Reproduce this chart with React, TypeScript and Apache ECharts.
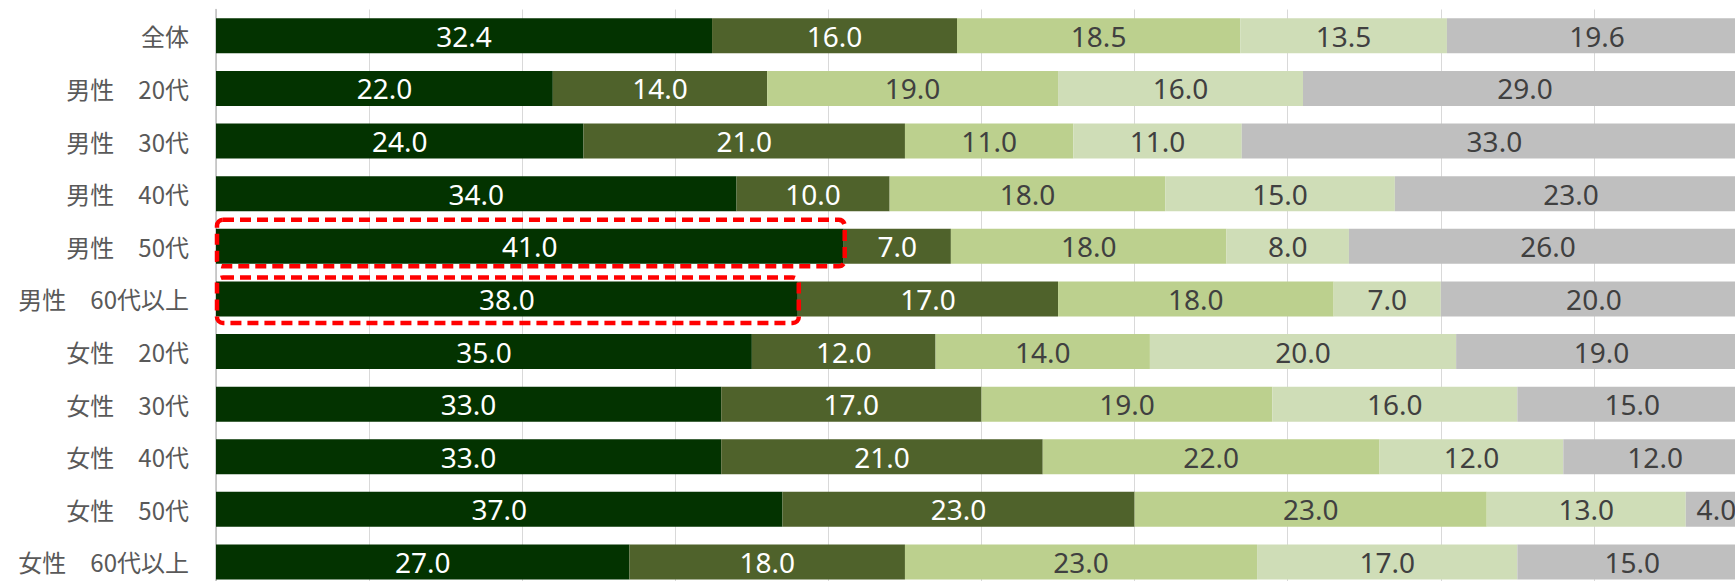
import React, { useEffect, useRef } from "react";
import * as echarts from "echarts";

const categories = [
  "全体",
  "男性　20代",
  "男性　30代",
  "男性　40代",
  "男性　50代",
  "男性　60代以上",
  "女性　20代",
  "女性　30代",
  "女性　40代",
  "女性　50代",
  "女性　60代以上",
];

const seriesNames = ["回答1", "回答2", "回答3", "回答4", "回答5"];

const s1 = [32.4, 22.0, 24.0, 34.0, 41.0, 38.0, 35.0, 33.0, 33.0, 37.0, 27.0];
const s2 = [16.0, 14.0, 21.0, 10.0, 7.0, 17.0, 12.0, 17.0, 21.0, 23.0, 18.0];
const s3 = [18.5, 19.0, 11.0, 18.0, 18.0, 18.0, 14.0, 19.0, 22.0, 23.0, 23.0];
const s4 = [13.5, 16.0, 11.0, 15.0, 8.0, 7.0, 20.0, 16.0, 12.0, 13.0, 17.0];
const s5 = [19.6, 29.0, 33.0, 23.0, 26.0, 20.0, 19.0, 15.0, 12.0, 4.0, 15.0];

const seriesData = [s1, s2, s3, s4, s5];
const colors = ["#033300", "#4F622B", "#BCD08E", "#CFDDB7", "#BFBFBF"];
const labelColors = ["#FFFFFF", "#FFFFFF", "#404040", "#404040", "#404040"];

// highlighted cells: [category index, series index]
const highlights = [
  { cat: 4, series: 0, padTop: 9, padBottom: 2.5 },
  { cat: 5, series: 0, padTop: 4, padBottom: 6.5 },
];

export default function App() {
  const ref = useRef<HTMLDivElement>(null);

  useEffect(() => {
    if (!ref.current) return;
    const chart = echarts.init(ref.current, undefined, { renderer: "svg" });
    chart.setOption({
      animation: false,
      grid: { left: 216, top: 9.5, width: 1531, height: 578.8, containLabel: false },
      xAxis: {
        type: "value",
        min: 0,
        max: 100,
        interval: 10,
        axisLabel: { show: false },
        axisLine: { show: false },
        axisTick: { show: false },
        splitLine: { show: true, lineStyle: { color: "#D9D9D9", width: 1 } },
      },
      yAxis: {
        type: "category",
        data: categories,
        inverse: true,
        axisTick: { show: false },
        axisLine: { show: true, lineStyle: { color: "#BFBFBF", width: 1.5 } },
        axisLabel: {
          margin: 27,
          fontSize: 24,
          color: "#595959",
          fontFamily: "'Noto Sans CJK JP', sans-serif",
        },
      },
      series: seriesData.map((d, i) => ({
        name: seriesNames[i],
        type: "bar",
        stack: "total",
        barWidth: 35,
        data: d,
        itemStyle: { color: colors[i] },
        label: {
          show: true,
          position: "inside",
          color: labelColors[i],
          fontSize: 28,
          fontFamily: "'Noto Sans', sans-serif",
          formatter: (p: any) => Number(p.value).toFixed(1),
        },
      })),
    });

    const graphics = highlights.map((h) => {
      let start = 0;
      for (let k = 0; k < h.series; k++) start += seriesData[k][h.cat];
      const end = start + seriesData[h.series][h.cat];
      const p0 = chart.convertToPixel({ gridIndex: 0 }, [start, h.cat]) as number[];
      const p1 = chart.convertToPixel({ gridIndex: 0 }, [end, h.cat]) as number[];
      const half = 35 / 2;
      const top = p0[1] - half - h.padTop;
      const bottom = p0[1] + half + h.padBottom;
      return {
        type: "rect",
        z: 100,
        shape: { x: p0[0] + 1, y: top, width: p1[0] - p0[0], height: bottom - top, r: 6 },
        style: { fill: "none", stroke: "#FF0000", lineWidth: 4.5, lineDash: [11, 6] },
      };
    });
    chart.setOption({ graphic: graphics });

    return () => chart.dispose();
  }, []);

  return (
    <div style={{ position: "fixed", left: 0, top: 0, width: 1735, height: 581, overflow: "hidden", background: "#fff" }}>
      <div ref={ref} style={{ width: 1760, height: 600 }} />
    </div>
  );
}
